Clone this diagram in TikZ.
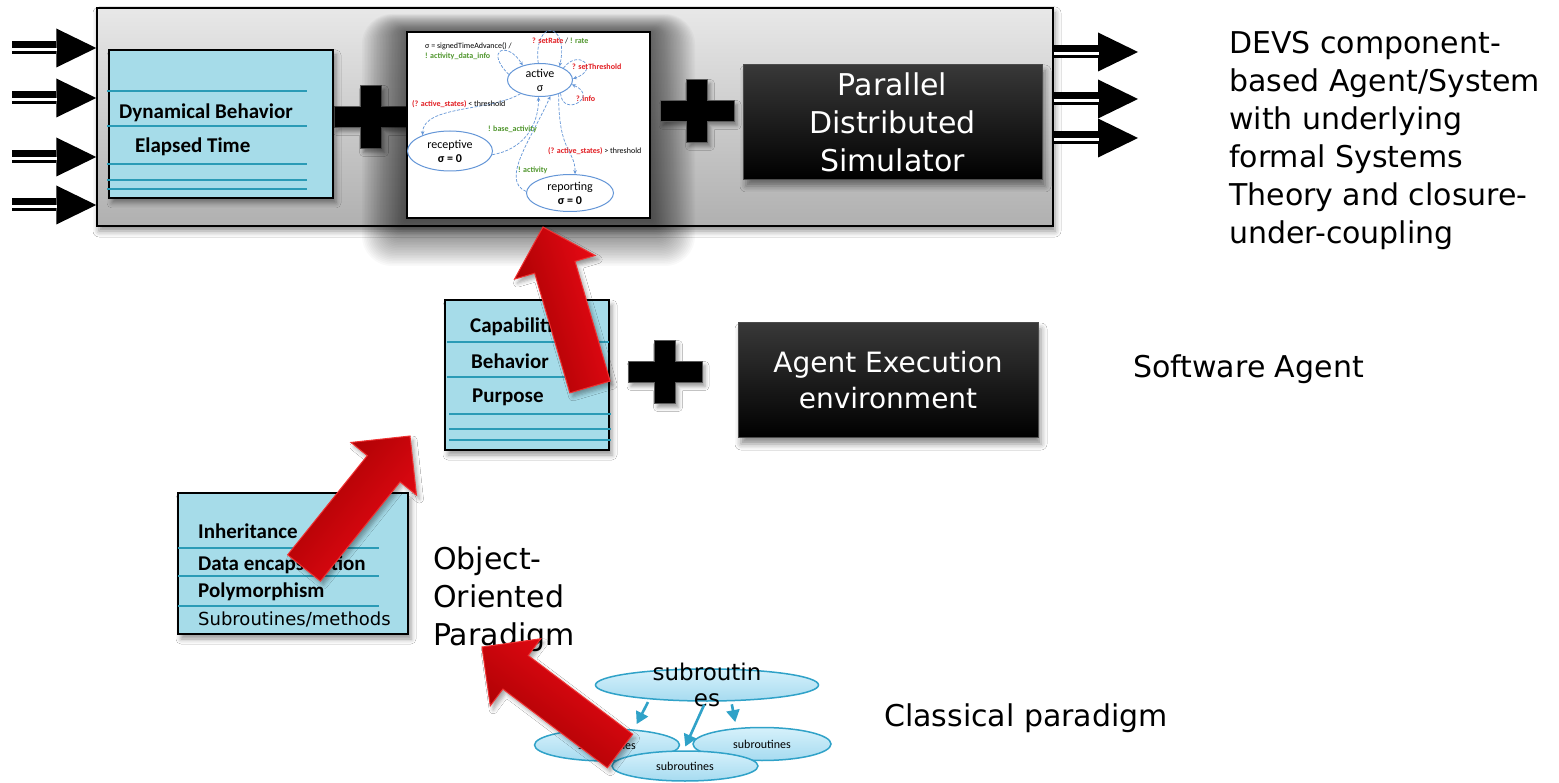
\documentclass[tikz,border=0pt]{standalone}
\usepackage{fontspec}
\setmainfont{DejaVu Sans}
\newfontfamily\calib{Carlito}
\usetikzlibrary{arrows.meta}
\usetikzlibrary{positioning}
\usetikzlibrary{calc}
\usetikzlibrary{shapes.geometric}
\usetikzlibrary{shadows.blur}

\definecolor{boxcyan}{RGB}{166,220,233}
\definecolor{rowline}{RGB}{42,155,182}
\definecolor{greytop}{RGB}{232,232,232}
\definecolor{greybot}{RGB}{176,176,176}
\definecolor{arrdark}{RGB}{160,0,0}
\definecolor{arrbright}{RGB}{238,10,22}
\definecolor{arredge}{RGB}{238,50,50}
\definecolor{elltop}{RGB}{214,241,251}
\definecolor{ellbot}{RGB}{166,219,240}
\definecolor{elledge}{RGB}{48,162,200}
\definecolor{stblue}{RGB}{100,150,215}
\definecolor{lblred}{RGB}{226,30,35}
\definecolor{lblgreen}{RGB}{80,150,45}

\tikzset{
  greybox/.style={draw=black, line width=1.5pt, top color=greytop, bottom color=greybot,
    blur shadow={shadow xshift=2pt, shadow yshift=-5pt, shadow blur radius=6pt, shadow opacity=45}},
  cyanbox/.style={draw=black, line width=1.8pt, fill=boxcyan,
    blur shadow={shadow xshift=3pt, shadow yshift=-5pt, shadow blur radius=5pt, shadow opacity=40}},
  blackbox/.style={draw=black!70, line width=1pt, top color=black!78, bottom color=black, text=white, align=center,
    blur shadow={shadow xshift=3pt, shadow yshift=-6pt, shadow blur radius=6pt, shadow opacity=45}},
  row/.style={rowline, line width=1.3pt},
  boxtext/.style={font=\calib\bfseries\fontsize{21}{25}\selectfont, anchor=base west, inner sep=0pt},
  bigtext/.style={font=\fontsize{30}{38}\selectfont, align=left, inner sep=0pt},
  inarrow/.style={line width=13pt, -{Triangle[length=40pt,width=39pt,line width=0pt]}},
  stripe/.style={white, line width=2.5pt},
  glow/.style={black, opacity=0.022},
  stnode/.style={ellipse, draw=stblue, line width=1pt, fill=white, inner sep=0pt, align=center,
    font=\calib\fontsize{12}{14}\selectfont},
  st/.style={stblue, dash pattern=on 3pt off 1.5pt, line width=0.7pt, -{Stealth[length=4pt,width=3.5pt]}},
  lbl/.style={font=\calib\fontsize{8}{9}\selectfont, anchor=west, inner sep=0pt},
  subell/.style={ellipse, draw=elledge, line width=1.5pt, top color=elltop, bottom color=ellbot, inner sep=0pt,
    font=\calib\fontsize{12}{14}\selectfont},
  subarrow/.style={elledge, line width=2.6pt, -{Triangle[length=12pt,width=13pt]}},
  redarr/.style={top color=arrdark, bottom color=arrbright, draw=arredge, line width=1pt,
    blur shadow={shadow xshift=3pt, shadow yshift=-4pt, shadow blur radius=4pt, shadow opacity=35}},
  crossmark/.pic={
    \path[fill=black, draw=black!65, line width=0.8pt,
      blur shadow={shadow xshift=3pt, shadow yshift=-4pt, shadow blur radius=4pt, shadow opacity=40}]
      (-37,-10.5) -| (-10.5,-31.5) -| (10.5,-10.5) -| (37,10.5) -| (10.5,31.5) -| (-10.5,10.5)
      -| (-37,10.5) -- cycle;
  }
}

% tail, tip, direction
\newcommand{\redarrow}[3]{%
  \coordinate (#2b) at ($(#2)!42pt!(#1)$);
  \path[redarr, shading angle=#3]
    ($(#1)!21pt!90:(#2)$) -- ($(#2b)!21pt!90:(#2)$) -- ($(#2b)!42pt!90:(#2)$) -- (#2)
    -- ($(#2b)!42pt!-90:(#2)$) -- ($(#2b)!21pt!-90:(#2)$) -- ($(#1)!21pt!-90:(#2)$) -- cycle;
}

\begin{document}
\begin{tikzpicture}[x=1pt,y=1pt]
  \fill[white] (0,0) rectangle (1559,-783);
  \useasboundingbox (0,0) rectangle (1559,-783);

  % DEVS component
  \node[greybox, minimum width=956, minimum height=218] (devs) at (575,-117) {};
  \foreach \y [count=\i] in {48,98,157,205} {
    \coordinate (in\i) at (12,-\y);
    \draw[inarrow] (in\i) -- (in\i -| devs.west);
    \draw[stripe] ($(in\i)+(0,-1.5)$) -- ++(45,0);
  }
  \foreach \y [count=\i] in {52,99,138} {
    \coordinate (out\i) at (1138,-\y);
    \draw[inarrow] (out\i -| devs.east) -- (out\i);
    \draw[stripe] ($(out\i -| devs.east)+(0,-1.5)$) -- ++(45,0);
  }
  \pic at (371,-117) {crossmark};

  \coordinate (stsw) at (407,-218);
  \coordinate (stne) at (650,-32);
  \foreach \k in {1,...,30}
    \fill[glow, rounded corners=\k] ($(stsw)+(-1.5*\k,-1.6*\k)$) rectangle ($(stne)+(1.5*\k,0.6*\k)$);
  \node[draw=black, line width=1.5pt, fill=white, minimum width=243, minimum height=186] (state) at (528.5,-125) {};
  \node[stnode, minimum width=65, minimum height=33] (active) at (540,-80) {active\\σ};
  \node[stnode, minimum width=85, minimum height=40] (recep) at (450,-151) {receptive\\\textbf{σ = 0}};
  \node[stnode, minimum width=87, minimum height=37] (report) at (570,-193) {reporting\\\textbf{σ = 0}};
  \draw[st] (active.170) .. controls +(-25,25) and +(-15,25) .. (active.140);
  \draw[st] (active.96) .. controls +(-5,45) and +(10,45) .. (active.35);
  \draw[st] (active.27) .. controls +(15,20) and +(28,10) .. (active.2);
  \draw[st] (active.-33) .. controls +(2,-25) and +(28,-12) .. (active.-8);
  \draw[st] (active.215) .. controls +(-30,-18) and +(0,30) .. (recep.150);
  \draw[st] (recep.-5) .. controls +(30,5) and +(0,-30) .. (active.-95);
  \draw[st] (active.-37) .. controls +(0,-60) and +(0,25) .. (report.75);
  \draw[st] (report.178) .. controls +(-26,11) and +(-20,-44) .. (active.-57);
  \node[lbl] (l1) at (425,-46) {σ = signedTimeAdvance() /};
  \node[lbl, text=lblgreen, font=\calib\bfseries\fontsize{8}{9}\selectfont] (l2) at (425,-56) {! activity\_data\_info};
  \node[lbl] (l3) at (532,-41) {\textbf{\textcolor{lblred}{? setRate}} / \textbf{\textcolor{lblgreen}{! rate}}};
  \node[lbl, text=lblred, font=\calib\bfseries\fontsize{8}{9}\selectfont] (l4) at (572,-67) {? setThreshold};
  \node[lbl, text=lblred, font=\calib\bfseries\fontsize{8}{9}\selectfont] (l5) at (576,-99) {? info};
  \node[lbl] (l6) at (412,-104) {\textbf{\textcolor{lblred}{(? active\_states)}} < threshold};
  \node[lbl, text=lblgreen, font=\calib\bfseries\fontsize{8}{9}\selectfont] (l7) at (488,-129) {! base\_activity};
  \node[lbl] (l8) at (548,-151) {\textbf{\textcolor{lblred}{(? active\_states)}} > threshold};
  \node[lbl, text=lblgreen, font=\calib\bfseries\fontsize{8}{9}\selectfont] (l9) at (518,-170) {! activity};

  \node[cyanbox, minimum width=224, minimum height=148] (dyn) at (221,-124) {};
  \foreach \y in {91,126,164,180,189} \draw[row] (107,-\y) -- (307,-\y);
  \node[boxtext] (dynbeh) at (119,-119) {Dynamical Behavior};
  \node[boxtext] (elap) at (135,-153) {Elapsed Time};

  \pic at (697,-111) {crossmark};
  \node[blackbox, minimum width=299, minimum height=115, font=\fontsize{30}{38}\selectfont] (sim)
    at (892.5,-122.5) {Parallel\\Distributed\\Simulator};
  \node[bigtext, anchor=north west] (devstxt) at (1229,-31)
    {DEVS component-\\based Agent/System\\with underlying\\formal Systems\\Theory and closure-\\under-coupling};

  % software agent
  \node[cyanbox, minimum width=164, minimum height=150] (agent) at (527,-375) {};
  \foreach \y in {342,377} \draw[row] (447,-\y) -- (609,-\y);
  \foreach \y in {414,429,440} \draw[row] (449,-\y) -- (611,-\y);
  \node[boxtext] (capab) at (470,-333) {Capabilities};
  \node[boxtext] (behav) at (471,-369) {Behavior};
  \node[boxtext] (purp) at (472,-403) {Purpose};
  \pic at (665,-372) {crossmark};
  \node[blackbox, minimum width=300, minimum height=115, font=\fontsize{28}{36}\selectfont] (exec)
    at (888,-380.5) {Agent Execution\\environment};
  \node[bigtext, anchor=base west] (swagent) at (1133,-378) {Software Agent};

  % object oriented
  \node[cyanbox, minimum width=230, minimum height=141] (oop) at (293,-563.5) {};
  \foreach \y in {548,576,606} \draw[row] (178,-\y) -- (379,-\y);
  \node[boxtext] (inher) at (198,-538) {Inheritance};
  \node[boxtext] (encap) at (198,-570) {Data encapsulation};
  \node[boxtext] (poly) at (198,-597) {Polymorphism};
  \node[anchor=base west, inner sep=0pt, font=\fontsize{18}{22}\selectfont] (subm) at (198,-625) {Subroutines/methods};
  \node[bigtext, anchor=north west] (ooptxt) at (433,-547) {Object-\\Oriented\\Paradigm};

  % classical
  \node[subell, minimum width=145, minimum height=32] (sub1) at (607,-745) {subroutines};
  \node[subell, minimum width=138, minimum height=33] (sub2) at (762,-744) {subroutines};
  \node[subell, minimum width=146, minimum height=30] (sub3) at (685,-766) {subroutines};
  \node[subell, minimum width=223, minimum height=32] (sub0) at (707,-685) {};
  \node[align=center, inner sep=0pt, font=\fontsize{23}{26}\selectfont] (sub0t) at (sub0) {subroutin\\es};
  \draw[subarrow, shorten <=3pt, shorten >=6pt] (sub0.194) -- (sub1.30);
  \draw[subarrow, shorten <=3pt, shorten >=4pt] (sub0.265) -- (sub3.95);
  \draw[subarrow, shorten <=3pt, shorten >=6pt] (sub0.326) -- (sub2.148);
  \node[bigtext, anchor=base west] (classic) at (884,-726) {Classical paradigm};

  \coordinate (t1) at (620,-751);
  \coordinate (h1) at (482,-647);
  \coordinate (t2) at (304,-568);
  \coordinate (h2) at (410,-436);
  \coordinate (t3) at (590,-387);
  \coordinate (h3) at (543,-227);
  \redarrow{t1}{h1}{143}
  \redarrow{t2}{h2}{51}
  \redarrow{t3}{h3}{106}
\end{tikzpicture}
\end{document}
